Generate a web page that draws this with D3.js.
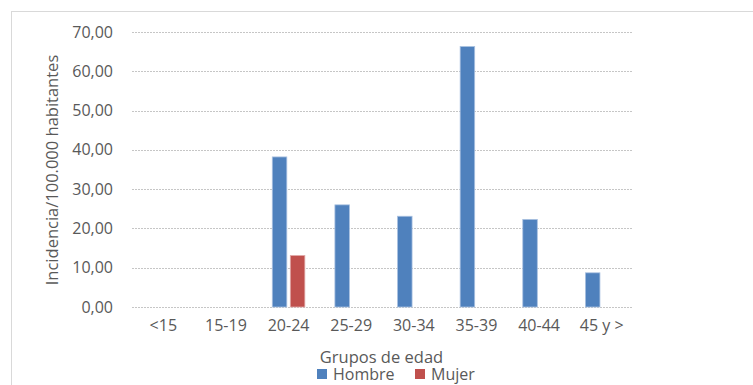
<!DOCTYPE html>
<html>
<head>
<meta charset="utf-8">
<script src="https://cdn.jsdelivr.net/npm/d3@7"></script>
<style>
  html, body { margin: 0; padding: 0; background: #fff; }
  svg { display: block; }
  text { font-family: "Open Sans", "Noto Sans", sans-serif; fill: #595959; }
</style>
</head>
<body>
<svg id="chart" width="753" height="385"></svg>
<script>
// Age groups and incidence per 100,000 inhabitants by sex
const categories = ["<15", "15-19", "20-24", "25-29", "30-34", "35-39", "40-44", "45 y >"];
const hombre = [0, 0, 38.2, 26.0, 23.1, 66.3, 22.3, 8.7];
const mujer  = [0, 0, 13.1, 0, 0, 0, 0, 0];
const seriesNames = ["Hombre", "Mujer"];
const seriesColors = ["#4F81BD", "#C0504D"];
const yTicks = [0, 10, 20, 30, 40, 50, 60, 70];

const svg = d3.select("#chart");
const plot = { left: 132, right: 633, top: 32, bottom: 307 };

// outer chart frame
svg.append("rect")
  .attr("x", 11.5).attr("y", 11.5)
  .attr("width", 800).attr("height", 400)
  .attr("fill", "#fff")
  .attr("stroke", "#d9d9d9");

const x = d3.scaleBand().domain(categories).range([plot.left, plot.right]);
const y = d3.scaleLinear().domain([0, 70]).range([plot.bottom, plot.top]);
const fmt = v => d3.format(".2f")(v).replace(".", ",");

// horizontal gridlines
svg.append("g")
  .selectAll("line")
  .data(yTicks)
  .join("line")
  .attr("x1", plot.left).attr("x2", plot.right)
  .attr("y1", d => Math.round(y(d)) + 0.5).attr("y2", d => Math.round(y(d)) + 0.5)
  .attr("stroke", "#c6c6c6")
  .attr("stroke-dasharray", "2,1");

// y axis labels
const yAxis = svg.append("g")
  .attr("transform", `translate(${plot.left},0)`)
  .call(d3.axisLeft(y).tickValues(yTicks).tickFormat(fmt).tickSize(0).tickPadding(19));
yAxis.select(".domain").remove();
yAxis.selectAll("text").style("font-size", "16px").attr("fill", "#595959");

// x axis labels
const xAxis = svg.append("g")
  .attr("transform", `translate(0,${plot.bottom})`)
  .call(d3.axisBottom(x).tickSize(0).tickPadding(13));
xAxis.select(".domain").remove();
xAxis.selectAll("text").style("font-size", "16px").attr("fill", "#595959");

// grouped bars
const barW = x.bandwidth() * 0.232;
const gap = 3.5;
const series = [hombre, mujer];
series.forEach((vals, si) => {
  svg.append("g")
    .selectAll("rect")
    .data(categories.map((c, i) => ({ c, v: vals[i] })).filter(d => d.v > 0))
    .join("rect")
    .attr("x", d => x(d.c) + x.bandwidth() / 2 + (si === 0 ? -barW - gap / 2 : gap / 2))
    .attr("y", d => y(d.v))
    .attr("width", barW)
    .attr("height", d => y(0) - y(d.v))
    .attr("fill", seriesColors[si])
    .attr("stroke", si === 0 ? "#a9c1e0" : "#e0a9a7")
    .attr("stroke-width", 0.8);
});

// y axis title
svg.append("text")
  .attr("transform", `translate(58,170) rotate(-90)`)
  .attr("text-anchor", "middle")
  .style("font-size", "16.5px")
  .text("Incidencia/100.000 habitantes");

// x axis title
svg.append("text")
  .attr("x", (plot.left + plot.right) / 2 - 1)
  .attr("y", 363)
  .attr("text-anchor", "middle")
  .style("font-size", "16.5px")
  .text("Grupos de edad");

// legend
const legendItems = [
  { name: seriesNames[0], color: seriesColors[0], x: 317 },
  { name: seriesNames[1], color: seriesColors[1], x: 415 }
];
const lg = svg.append("g");
legendItems.forEach(it => {
  lg.append("rect")
    .attr("x", it.x).attr("y", 369)
    .attr("width", 10).attr("height", 10)
    .attr("fill", it.color);
  lg.append("text")
    .attr("x", it.x + 16).attr("y", 380)
    .style("font-size", "16px")
    .text(it.name);
});
</script>
</body>
</html>
